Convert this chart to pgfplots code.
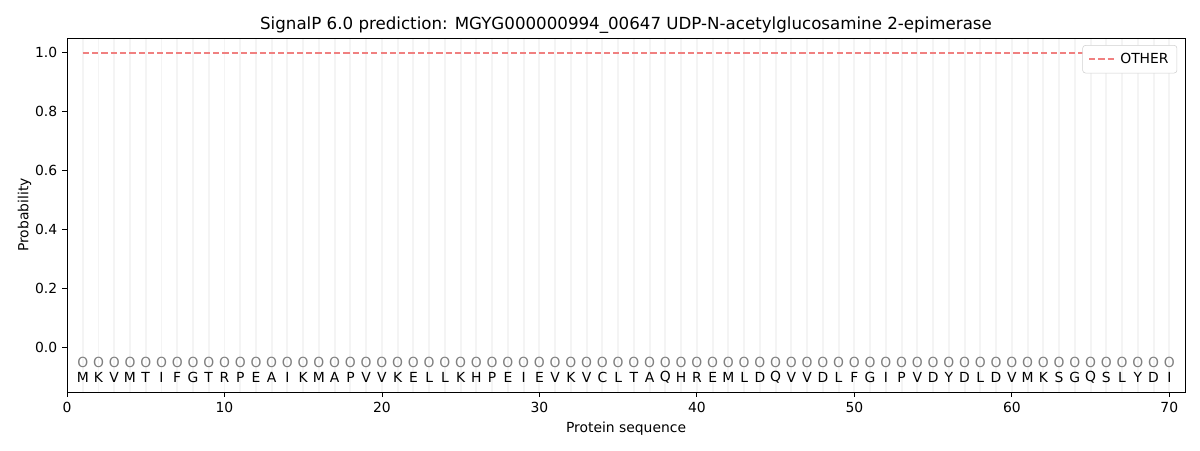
\documentclass[border=0pt]{standalone}
\usepackage{pgfplots}
\pgfplotsset{compat=1.18}
\usepackage{pgfplotstable}
\usepackage{fontspec}
\setmainfont{DejaVu Sans}

\definecolor{otherred}{HTML}{F08080}
\definecolor{vgrid}{HTML}{F4F4F4}
\definecolor{ogray}{HTML}{808080}

% residues of MGYG000000994_00647, positions 1..70
\pgfplotstableread{
pos aa
1 M
2 K
3 V
4 M
5 T
6 I
7 F
8 G
9 T
10 R
11 P
12 E
13 A
14 I
15 K
16 M
17 A
18 P
19 V
20 V
21 K
22 E
23 L
24 L
25 K
26 H
27 P
28 E
29 I
30 E
31 V
32 K
33 V
34 C
35 L
36 T
37 A
38 Q
39 H
40 R
41 E
42 M
43 L
44 D
45 Q
46 V
47 V
48 D
49 L
50 F
51 G
52 I
53 P
54 V
55 D
56 Y
57 D
58 L
59 D
60 V
61 M
62 K
63 S
64 G
65 Q
66 S
67 L
68 Y
69 D
70 I
}\seqtable

\begin{document}
\begin{tikzpicture}
\useasboundingbox (-48.24pt,-41.76pt) rectangle (815.76pt,282.26pt);
\begin{axis}[
  at={(0,0)}, anchor=south west,
  scale only axis,
  width=805pt, height=254.9pt,
  xmin=0, xmax=71,
  ymin=-0.15, ymax=1.05,
  xtick={0,10,...,70},
  ytick={0,0.2,...,1.0},
  yticklabel style={/pgf/number format/.cd,fixed,fixed zerofill,precision=1},
  /pgf/number format/assume math mode=true,
  minor xtick={1,...,70},
  minor tick length=0pt,
  xminorgrids,
  minor grid style={vgrid, line width=1.4pt},
  tick align=outside,
  major tick length=3.5pt,
  xtick pos=bottom, ytick pos=left,
  tick style={black, line width=0.6pt},
  axis line style={line width=0.6pt},
  tick label style={font=\fontsize{10}{12}\selectfont},
  label style={font=\fontsize{10}{12}\selectfont},
  xlabel={Protein sequence},
  ylabel={Probability},
  xlabel style={yshift=0pt},
  ylabel style={yshift=-4pt},
  title={SignalP 6.0 prediction: MGYG000000994\_00647 UDP-N-acetylglucosamine 2-epimerase},
  title style={font=\fontsize{12}{14}\selectfont, yshift=-6pt},
  legend style={at={(0.993,0.98)}, anchor=north east, draw=black!18, rounded corners=2pt,
    font=\fontsize{10}{12}\selectfont, inner xsep=4pt, inner ysep=3.5pt,
    nodes={inner sep=2pt}},
  legend image code/.code={\draw[#1] (0pt,0pt) -- (20pt,0pt);},
  legend cell align=left,
  clip=false,
]
\addplot[otherred, line width=1.1pt, dash pattern=on 4.5pt off 2.2pt] coordinates {(1,1) (70,1)};
\addlegendentry{OTHER}
\addplot[only marks, mark=none, nodes near coords={O}, point meta=explicit symbolic,
  nodes near coords style={anchor=center, text=ogray, font=\fontsize{10}{12}\selectfont}]
  table[x=pos, y expr=-0.05, meta=aa] {\seqtable};
\addplot[only marks, mark=none, nodes near coords, point meta=explicit symbolic,
  nodes near coords style={anchor=center, text=black, font=\fontsize{10}{12}\selectfont}]
  table[x=pos, y expr=-0.1, meta=aa] {\seqtable};
\end{axis}
\end{tikzpicture}
\end{document}
